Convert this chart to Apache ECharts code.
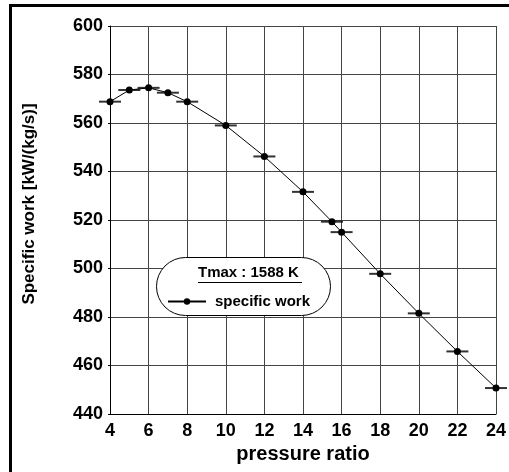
<!DOCTYPE html>
<html lang="en">
<head>
    <meta charset="UTF-8">
    <title>Specific work</title>
    <script src="https://cdn.jsdelivr.net/npm/echarts@6/dist/echarts.min.js"></script>
    <style>
        html, body { margin: 0; padding: 0; background: #fff; }
        #main { width: 509px; height: 472px; }
    </style>
</head>
<body>
    <div id="main"></div>
    <script>
        // pressure ratio vs specific work
        var pressureRatio = [4, 5, 6, 7, 8, 10, 12, 14, 15.5, 16, 18, 20, 22, 24];
        var specificWork = [568.8, 573.6, 574.5, 572.5, 568.8, 559.0, 546.2, 531.6, 519.3, 515.0, 497.8, 481.5, 465.8, 450.7];
        var xTicks = [4, 6, 8, 10, 12, 14, 16, 18, 20, 22, 24];
        var yTicks = [440, 460, 480, 500, 520, 540, 560, 580, 600];

        var points = pressureRatio.map(function (p, i) { return [p, specificWork[i]]; });
        var font = 'Liberation Sans, Arial, sans-serif';

        var myChart = echarts.init(document.getElementById('main'));
        myChart.setOption({
            animation: false,
            grid: { left: 110, right: 11, top: 26, bottom: 58 },
            xAxis: {
                type: 'value',
                min: xTicks[0],
                max: xTicks[xTicks.length - 1],
                interval: 2,
                name: 'pressure ratio',
                nameLocation: 'middle',
                nameGap: 30,
                nameTextStyle: { color: '#000', fontWeight: 'bold', fontSize: 20, fontFamily: font },
                axisLine: { lineStyle: { color: '#000', width: 1 } },
                axisTick: { show: false },
                axisLabel: { color: '#000', fontWeight: 'bold', fontSize: 18, fontFamily: font, margin: 8 },
                splitLine: { show: true, lineStyle: { color: '#444', width: 1 } }
            },
            yAxis: {
                type: 'value',
                min: yTicks[0],
                max: yTicks[yTicks.length - 1],
                interval: 20,
                name: 'Specific work [kW/(kg/s)]',
                nameLocation: 'middle',
                nameGap: 72,
                nameTextStyle: { color: '#000', fontWeight: 'bold', fontSize: 17, fontFamily: font, padding: [0, 0, 0, 32] },
                axisLine: { show: true, lineStyle: { color: '#000', width: 1 } },
                axisTick: { show: true, length: 2, lineStyle: { color: '#000' } },
                axisLabel: { color: '#000', fontWeight: 'bold', fontSize: 18, fontFamily: font, margin: 7 },
                splitLine: { show: true, lineStyle: { color: '#444', width: 1 } }
            },
            legend: {
                data: ['specific work'],
                left: 162,
                top: 289,
                z: 100,
                itemWidth: 38,
                itemHeight: 8,
                textStyle: { color: '#000', fontWeight: 'bold', fontSize: 15, fontFamily: font, padding: [0, 0, 0, 4] }
            },
            graphic: [
                { type: 'rect', left: 9, top: 4, shape: { width: 3, height: 468 }, style: { fill: '#000' } },
                { type: 'rect', left: 9, top: 4, shape: { width: 500, height: 3 }, style: { fill: '#000' } },
                { type: 'rect', left: 156, top: 257, z: 50,
                  shape: { width: 174, height: 58, r: 29 },
                  style: { fill: '#fff', stroke: '#000', lineWidth: 1 } },
                { type: 'text', left: 198, top: 265, z: 60,
                  style: { text: 'Tmax : 1588 K', fill: '#000', font: 'bold 15px ' + font } },
                { type: 'line', z: 60,
                  shape: { x1: 198, y1: 282.5, x2: 302, y2: 282.5 },
                  style: { stroke: '#000', lineWidth: 1 } }
            ],
            series: [
                {
                    name: 'specific work',
                    type: 'line',
                    data: points,
                    symbol: 'circle',
                    symbolSize: 7,
                    z: 3,
                    itemStyle: { color: '#000' },
                    lineStyle: { color: '#000', width: 1 }
                },
                {
                    name: 'dash',
                    type: 'scatter',
                    data: points,
                    symbol: 'rect',
                    symbolSize: [22, 2],
                    z: 2,
                    itemStyle: { color: '#000' }
                }
            ]
        });
    </script>
</body>
</html>
